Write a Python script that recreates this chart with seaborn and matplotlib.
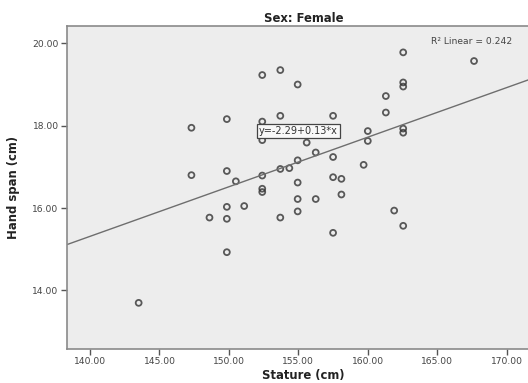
import numpy as np
import pandas as pd
import matplotlib
matplotlib.use("Agg")
import matplotlib.pyplot as plt
import seaborn as sns

# Data (Sex: Female)
stature = [143.5, 147.3, 147.3, 148.6, 149.85, 149.85, 149.85, 149.85, 149.85,
           150.5, 151.1, 152.4, 152.4, 152.4, 152.4, 152.4, 152.4,
           153.7, 153.7, 153.7, 153.7, 154.35, 154.95, 154.95, 154.95, 154.95, 154.95,
           155.6, 156.25, 156.25, 157.5, 157.5, 157.5, 157.5, 158.1, 158.1,
           159.7, 160.0, 160.0, 161.3, 161.3, 161.9,
           162.55, 162.55, 162.55, 162.55, 162.55, 162.55, 167.65]
hand_span = [13.70, 17.95, 16.80, 15.77, 18.16, 16.90, 16.03, 15.74, 14.93,
             16.65, 16.05, 19.23, 18.10, 17.65, 16.79, 16.47, 16.39,
             19.35, 18.24, 16.95, 15.77, 16.97, 19.00, 17.16, 16.62, 16.22, 15.92,
             17.59, 17.35, 16.22, 18.24, 17.24, 16.75, 15.40, 16.71, 16.33,
             17.05, 17.87, 17.63, 18.72, 18.32, 15.94,
             19.78, 19.05, 18.95, 17.93, 17.83, 15.57, 19.57]
x_ticks = [140, 145, 150, 155, 160, 165, 170]
y_ticks = [14, 16, 18, 20]
title = "Sex: Female"
x_label = "Stature (cm)"
y_label = "Hand span (cm)"
equation_text = "y=-2.29+0.13*x"
r2_text = "R\u00b2 Linear = 0.242"

df = pd.DataFrame({"stature": stature, "hand_span": hand_span})

sns.set_style("white")
plt.rcParams["font.family"] = ["DejaVu Sans"]

W, H = 528, 383
fig = plt.figure(figsize=(W / 100, H / 100), dpi=100)
left_px, right_px, top_px, bottom_px = 67, 540, 26, 349
ax = fig.add_axes([left_px / W, (H - bottom_px) / H,
                   (right_px - left_px) / W, (bottom_px - top_px) / H])
ax.set_facecolor("#ededed")

xlim = (138.34, 172.4)
ylim = (12.58, 20.42)
ax.set_xlim(*xlim)
ax.set_ylim(*ylim)

sns.regplot(data=df, x="stature", y="hand_span", ax=ax, ci=None, truncate=False,
            scatter_kws=dict(s=18, facecolors="none", edgecolors="#333333",
                             linewidths=1.3),
            line_kws=dict(color="#6e6e6e", linewidth=1.0))
ax.set_xlim(*xlim)
ax.set_ylim(*ylim)

ax.set_xticks(x_ticks)
ax.set_yticks(y_ticks)
ax.set_xticklabels([f"{t:.2f}" for t in x_ticks])
ax.set_yticklabels([f"{t:.2f}" for t in y_ticks])
ax.tick_params(axis="both", direction="out", length=4, width=1, color="#555555",
               labelsize=6.6, labelcolor="#444444", pad=2,
               bottom=True, left=True)

for side in ["left", "bottom", "top", "right"]:
    ax.spines[side].set_color("#8a8a8a")
    ax.spines[side].set_linewidth(1.2)

ax.set_xlabel(x_label, fontsize=8.4, fontweight="bold", color="#222222", labelpad=2)
ax.set_ylabel(y_label, fontsize=8.4, fontweight="bold", color="#222222", labelpad=9)
ax.set_title(title, fontsize=8.4, fontweight="bold", color="#222222", pad=3)

ax.text(155.0, 17.88, equation_text, ha="center", va="center", fontsize=7,
        color="#333333",
        bbox=dict(boxstyle="square,pad=0.2", facecolor="#f8f8f8",
                  edgecolor="#444444", linewidth=0.9))
ax.text(0.941, 0.952, r2_text, transform=ax.transAxes, ha="right", va="center",
        fontsize=6.6, color="#444444")

fig.savefig("out.png", dpi=100)
